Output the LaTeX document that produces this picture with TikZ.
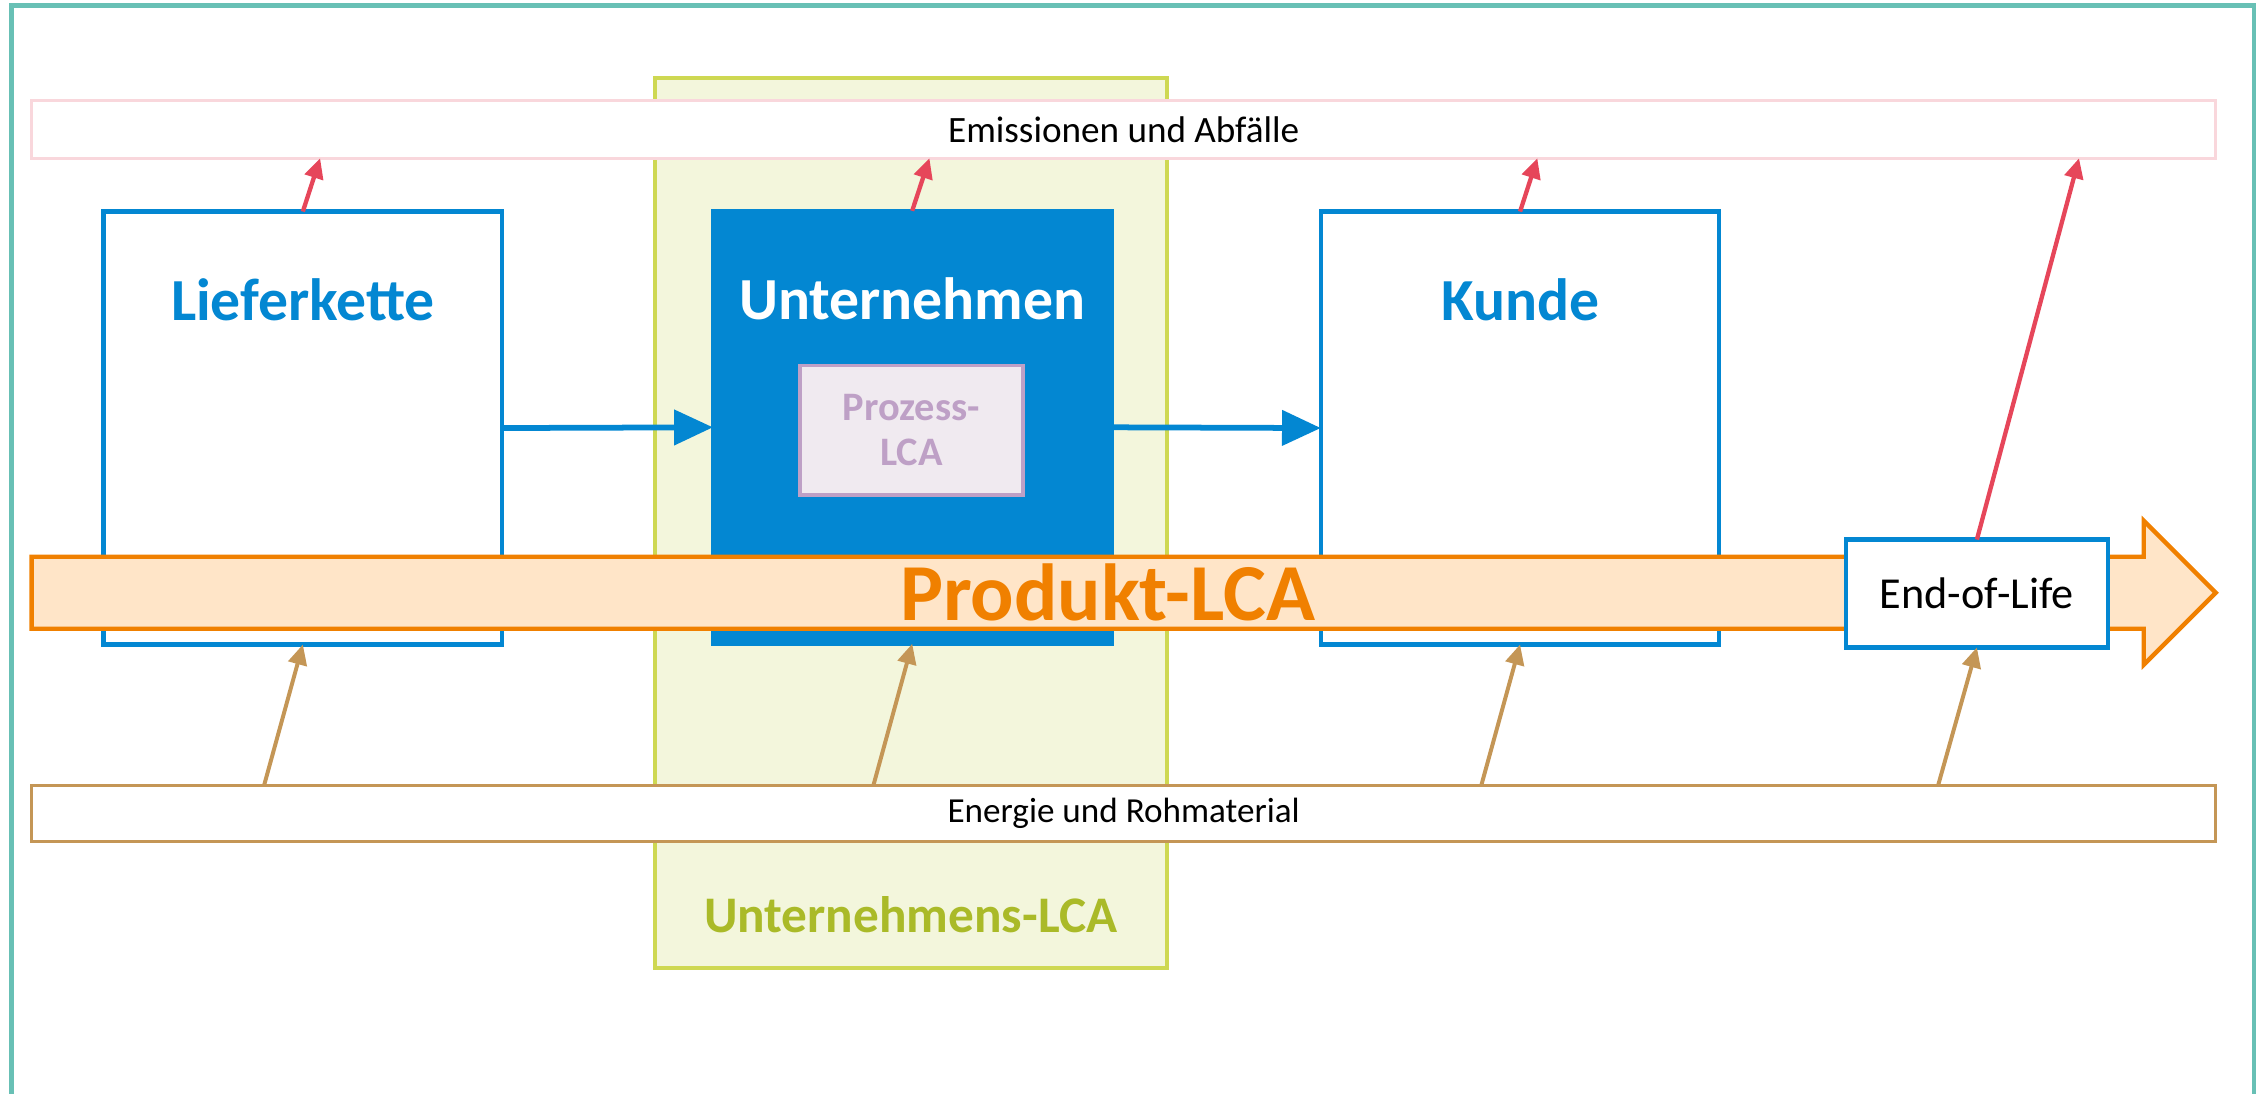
\documentclass[tikz,border=0pt]{standalone}
\usepackage{fontspec}
\setmainfont{Carlito}
\usetikzlibrary{
    arrows.meta,
    positioning,
    calc
}

\begin{document}
\begin{tikzpicture}[x=0.02cm, y=-0.02cm,
    stagebox/.style={draw=lcablue, line width=0.06cm, fill=white, inner sep=0pt, outer sep=0pt,
        minimum width=5.54cm, minimum height=6.02cm},
    stagetitle/.style={font=\bfseries\fontsize{23.6}{23.6}\selectfont, text=lcablue},
    bar/.style={fill=white, line width=0.045cm, inner sep=0pt, outer sep=0pt,
        minimum width=30.36cm, minimum height=0.8cm, font=\fontsize{14.4}{14.4}\selectfont},
    flow/.style={draw=lcablue, line width=0.08cm, -{Triangle[length=0.54cm, width=0.48cm]}},
    emis/.style={draw=emisred, line width=0.06cm, -{Triangle[length=0.28cm, width=0.26cm]}},
    input/.style={draw=energytan, line width=0.055cm, -{Triangle[length=0.28cm, width=0.26cm]}}
]
% Define palette
\definecolor{frameteal}{RGB}{104, 192, 181}
\definecolor{lcablue}{RGB}{3, 135, 210}
\definecolor{emispink}{RGB}{249, 215, 220}
\definecolor{emisred}{RGB}{230, 70, 90}
\definecolor{energytan}{RGB}{196, 150, 86}
\definecolor{ulcafill}{RGB}{243, 246, 220}
\definecolor{ulcastroke}{RGB}{206, 216, 82}
\definecolor{ulcatext}{RGB}{170, 186, 40}
\definecolor{prozfill}{RGB}{240, 234, 240}
\definecolor{prozstroke}{RGB}{190, 160, 198}
\definecolor{prodorange}{RGB}{240, 128, 0}
\definecolor{prodfill}{RGB}{255, 229, 200}

\useasboundingbox (0,0) rectangle (1568,760);
\clip (0,0) rectangle (1568,760);

% frame
\draw[frameteal, line width=0.07cm] (8,4) rectangle (1567,800);

% Unternehmens-LCA
\node[draw=ulcastroke, fill=ulcafill, line width=0.06cm, inner sep=0pt,
    minimum width=7.12cm, minimum height=12.38cm] (ulca) at (633,363.5) {};
\node[font=\bfseries\fontsize{20.3}{20.3}\selectfont, text=ulcatext] (ulcalabel) at (633,636) {Unternehmens-LCA};

% outputs and inputs
\node[bar, draw=emispink, font=\fontsize{14.7}{14.7}\selectfont] (emissionen) at (781,90) {Emissionen und Abfälle};
\node[bar, draw=energytan, minimum height=0.78cm, font=\fontsize{13.9}{13.9}\selectfont] (energie) at (781,565.5) {Energie und Rohmaterial};

% stages
\node[stagebox] (lieferkette) at (210.5,297.5) {};
\node[stagetitle] (liefertitle) at ([yshift=-1.22cm]lieferkette.north) {Lieferkette};
\node[stagebox, fill=lcablue] (unternehmen) at (634,297) {};
\node[stagetitle, text=white] (untertitle) at ([yshift=-1.22cm]unternehmen.north) {Unternehmen};
\node[draw=prozstroke, fill=prozfill, line width=0.05cm, inner sep=0pt, align=center,
    minimum width=3.1cm, minimum height=1.8cm, text=prozstroke,
    font=\bfseries\fontsize{16}{18}\selectfont] (prozess) at (633.5,299) {Prozess-\\LCA};
\node[stagebox] (kunde) at (1056.5,297.5) {};
\node[stagetitle] (kundetitle) at ([yshift=-1.22cm]kunde.north) {Kunde};

% Produkt-LCA arrow
\filldraw[draw=prodorange, fill=prodfill, line width=0.06cm, line join=miter]
    (22,387) -- (1490,387) -- (1490,362) -- (1540,412) -- (1490,462) -- (1490,437) -- (22,437) -- cycle;
\node[font=\bfseries\fontsize{32}{32}\selectfont, text=prodorange] (produkt) at (770,412) {Produkt-LCA};

\node[draw=lcablue, fill=white, line width=0.06cm, inner sep=0pt, outer sep=0pt,
    minimum width=3.64cm, minimum height=1.5cm, font=\fontsize{17.5}{17.5}\selectfont] (eol) at (1374,412.5) {End-of-Life};

% material flow
\draw[flow] (lieferkette.east) -- (unternehmen.west);
\draw[flow] (unternehmen.east) -- (kunde.west);

% emissions
\foreach \s in {lieferkette, unternehmen, kunde}
    \draw[emis] (\s.north) -- ([xshift=0.24cm]\s.north |- emissionen.south);
\draw[emis] (eol.north) -- ([xshift=1.42cm]eol.north |- emissionen.south);

% energy and raw material
\foreach \s in {lieferkette, unternehmen, kunde, eol}
    \draw[input] ([xshift=-0.54cm]\s.south |- energie.north) -- (\s.south);
\end{tikzpicture}
\end{document}
